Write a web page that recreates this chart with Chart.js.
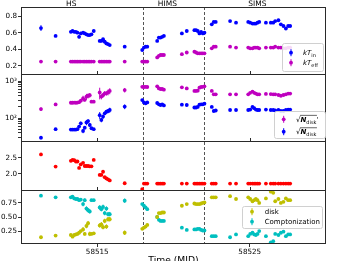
<!DOCTYPE html>
<html>
<head>
<meta charset="utf-8">
<script src="https://cdn.jsdelivr.net/npm/chart.js@4.4.1/dist/chart.umd.min.js"></script>
<style>
  html, body { margin: 0; padding: 0; background: #fff; overflow: hidden; }
  #wrap { width: 344px; height: 261px; overflow: hidden; }
</style>
</head>
<body>
<div id="wrap"><canvas id="chart" width="344" height="270"></canvas></div>
<script>
// observation times (MJD), HS / HIMS / SIMS
const mjd = [
  58511.31, 58512.27, 58513.27, 58513.38, 58513.49, 58513.60, 58513.70, 58513.81, 58513.92, 58514.07, 58514.18, 58514.29,
  58514.40, 58514.51, 58514.62, 58514.77, 58515.16, 58515.27, 58515.38, 58515.49, 58515.60, 58515.71, 58515.82, 58516.80,
  58517.95, 58518.06, 58518.17, 58518.28, 58518.93, 58519.04, 58519.15, 58519.26, 58519.37, 58520.55, 58520.87, 58521.37,
  58521.48, 58521.59, 58521.70, 58521.81, 58521.92, 58522.03,
  58522.51, 58522.64, 58522.77, 58523.71, 58524.10, 58524.90, 58525.03, 58525.18, 58525.29, 58525.40, 58525.51, 58525.62,
  58526.06, 58526.38, 58526.54, 58526.67, 58526.88, 58527.04, 58527.21, 58527.37, 58527.52, 58527.65
];

const kTin = [
  0.655, 0.56, 0.61, 0.62, 0.61, 0.61, 0.60, 0.55, 0.59, 0.60, 0.59, 0.58, 0.57, 0.57, 0.58, 0.62, 0.50, 0.50, 0.52, 0.49, 0.47, 0.46, 0.45, 0.43,
  0.39, 0.42, 0.43, 0.43, 0.50, 0.54, 0.54, 0.55, 0.56, 0.59, 0.62, 0.63, 0.63, 0.62, 0.59, 0.61, 0.59, 0.60,
  0.70, 0.73, 0.73, 0.74, 0.72, 0.73, 0.72, 0.71, 0.71, 0.71, 0.72, 0.73, 0.72, 0.72, 0.72, 0.74, 0.75, 0.70, 0.68, 0.65, 0.68, 0.68
];
const kTinErr = [
  0.035, 0.01, 0.01, 0.01, 0.01, 0.01, 0.01, 0.02, 0.01, 0.01, 0.01, 0.01, 0.01, 0.01, 0.01, 0.015, 0.01, 0.01, 0.01, 0.01, 0.01, 0.01, 0.01, 0.01,
  0.01, 0.01, 0.01, 0.01, 0.01, 0.01, 0.01, 0.01, 0.01, 0.01, 0.01, 0.01, 0.01, 0.01, 0.01, 0.01, 0.01, 0.01,
  0.01, 0.01, 0.01, 0.01, 0.01, 0.01, 0.01, 0.01, 0.01, 0.01, 0.01, 0.01, 0.01, 0.01, 0.01, 0.01, 0.01, 0.01, 0.01, 0.015, 0.01, 0.01
];
const kTeff = [
  0.25, 0.25, 0.25, 0.25, 0.25, 0.25, 0.25, 0.25, 0.25, 0.25, 0.25, 0.25, 0.25, 0.25, 0.25, 0.25, 0.25, 0.25, 0.25, 0.25, 0.25, 0.25, 0.25, 0.25,
  0.25, 0.25, 0.25, 0.25, 0.30, 0.32, 0.33, 0.33, 0.33, 0.34, 0.36, 0.37, 0.36, 0.35, 0.35, 0.35, 0.35, 0.35,
  0.41, 0.43, 0.43, 0.43, 0.42, 0.42, 0.41, 0.41, 0.42, 0.42, 0.42, 0.41, 0.42, 0.42, 0.42, 0.43, 0.42, 0.42, 0.41, 0.41, 0.42, 0.42
];

// sqrt(N_disk') (magenta) and sqrt(N_disk) (blue)
const nDiskP = [
  175, 234, 259, 259, 262, 259, 262, 268, 295, 340, 310, 380, 400, 415, 277, 277, 490, 380, 415, 465, 465, 500, 540, 570,
  700, 690, 700, 690, 720, 630, 610, 610, 585, 675, 630, 540, 540, 550, 660, 690, 700, 720,
  540, 437, 437, 437, 437, 437, 480, 520, 480, 460, 437, 437, 450, 445, 437, 437, 420, 400, 420, 437, 460, 460
];
const nDiskPErr = [
  20, 15, 12, 12, 12, 12, 12, 20, 30, 60, 30, 70, 60, 60, 15, 15, 170, 60, 60, 70, 60, 90, 100, 80,
  40, 40, 40, 40, 25, 25, 25, 25, 25, 20, 20, 20, 20, 20, 25, 25, 25, 30,
  20, 20, 20, 20, 20, 20, 20, 20, 20, 20, 20, 20, 20, 20, 20, 20, 20, 20, 20, 20, 20, 20
];
const nDisk = [
  29.5, 50, 49, 49, 49, 49, 50, 59, 72, 45, 55, 76, 83, 65, 53, 50, 120, 89, 110, 134, 148, 155, 165, 204,
  306, 265, 250, 265, 255, 235, 225, 235, 220, 230, 225, 193, 193, 200, 230, 235, 235, 245,
  200, 155, 160, 165, 165, 165, 170, 200, 185, 170, 165, 165, 170, 165, 165, 162, 165, 155, 155, 165, 170, 170
];
const nDiskErr = [
  3, 3, 2, 2, 2, 2, 2, 6, 8, 6, 6, 12, 10, 8, 4, 3, 25, 12, 15, 15, 15, 20, 25, 30,
  25, 15, 12, 12, 12, 10, 10, 10, 10, 10, 10, 8, 8, 8, 10, 10, 10, 12,
  8, 8, 8, 8, 8, 8, 8, 8, 8, 8, 8, 8, 8, 8, 8, 8, 8, 8, 8, 8, 8, 8
];

// photon index
const gammaIdx = [
  2.61, 2.23, 2.41, 2.44, 2.43, 2.39, 2.39, 2.19, 2.30, 2.35, 2.25, 2.25, 2.25, 2.24, 2.24, 2.44, 1.97, 1.97, 2.07, 1.90, 1.86, 1.83, 1.80, 1.71,
  1.53, 1.70, 1.70, 1.70, 1.70, 1.70, 1.70, 1.70, 1.70, 1.70, 1.70, 1.70, 1.70, 1.70, 1.70, 1.70, 1.70, 1.70,
  1.70, 1.70, 1.70, 1.70, 1.70, 1.70, 1.70, 1.70, 1.70, 1.70, 1.70, 1.70, 1.70, 1.70, 1.70, 1.70, 1.70, 1.70, 1.70, 1.70, 1.70, 1.70
];

// flux fractions
const diskFrac = [
  0.14, 0.17, 0.18, 0.15, 0.18, 0.19, 0.20, 0.22, 0.25, 0.28, 0.20, 0.34, 0.39, 0.20, 0.20, 0.21, 0.35, 0.37, 0.32, 0.43, 0.33, 0.46, 0.46, 0.22,
  0.29, 0.31, 0.33, 0.36, 0.50, 0.57, 0.57, 0.58, 0.58, 0.70, 0.73, 0.74, 0.73, 0.73, 0.73, 0.74, 0.75, 0.76,
  0.85, 0.85, 0.85, 0.87, 0.82, 0.85, 0.82, 0.78, 0.80, 0.82, 0.80, 0.75, 0.83, 0.95, 0.93, 0.78, 0.82, 0.75, 0.77, 0.83, 0.80, 0.80
];
const comptFrac = [
  0.88, 0.85, 0.85, 0.86, 0.83, 0.82, 0.82, 0.80, 0.81, 0.73, 0.80, 0.65, 0.62, 0.60, 0.80, 0.80, 0.67, 0.64, 0.68, 0.57, 0.65, 0.55, 0.55, 0.79,
  0.73, 0.70, 0.67, 0.64, 0.50, 0.45, 0.43, 0.43, 0.43, 0.31, 0.27, 0.28, 0.28, 0.29, 0.29, 0.27, 0.26, 0.26,
  0.16, 0.16, 0.16, 0.14, 0.19, 0.16, 0.20, 0.22, 0.19, 0.18, 0.20, 0.25, 0.16, 0.05, 0.07, 0.20, 0.18, 0.22, 0.24, 0.16, 0.19, 0.19
];
const fracErr = [
  0.02, 0.02, 0.02, 0.02, 0.02, 0.02, 0.02, 0.02, 0.02, 0.04, 0.03, 0.04, 0.04, 0.04, 0.02, 0.02, 0.04, 0.04, 0.04, 0.04, 0.04, 0.04, 0.04, 0.04,
  0.02, 0.02, 0.02, 0.02, 0.02, 0.02, 0.02, 0.02, 0.02, 0.01, 0.01, 0.01, 0.01, 0.01, 0.01, 0.01, 0.01, 0.01,
  0.01, 0.01, 0.01, 0.01, 0.01, 0.01, 0.01, 0.01, 0.01, 0.01, 0.01, 0.01, 0.01, 0.01, 0.01, 0.01, 0.01, 0.01, 0.01, 0.01, 0.01, 0.01
];

const xTicks = [58515, 58525];
const kTTicks = [0.2, 0.4, 0.6, 0.8];
const normTicks = [30, 40, 50, 60, 70, 80, 90, 100, 200, 300, 400, 500, 600, 700, 800, 900, 1000];
const gammaTicks = [2.0, 2.5];
const fracTicks = [0.25, 0.5, 0.75];
const stateNames = ['HS', 'HIMS', 'SIMS'];
const stateLabelAt = [58513.3, 58519.6, 58525.5];
const transitions = [58518, 58522];

const FONT = '"DejaVu Sans"';
Chart.defaults.font.family = FONT;
Chart.defaults.font.size = 7.2;
Chart.defaults.color = '#000';

const pts = ys => mjd.map((x, i) => ({ x: x, y: ys[i] }));

function series(label, ys, err, color, axis) {
  return {
    label: label, data: pts(ys), err: err, yAxisID: axis,
    backgroundColor: color, borderColor: color,
    pointRadius: 1.9, pointBorderWidth: 0, showLine: false
  };
}

function yAxis(weight, min, max, ticks, fmt, extra) {
  return Object.assign({
    axis: 'y', position: 'left', stack: 'panels', stackWeight: weight, min: min, max: max,
    afterBuildTicks: s => { s.ticks = ticks.map(v => ({ value: v })); },
    afterFit: s => { s.width = 21; },
    ticks: { callback: fmt, padding: 1, color: '#000', autoSkip: false },
    grid: { drawOnChartArea: false, tickLength: 3, tickColor: '#333' },
    border: { display: false }
  }, extra || {});
}

function richText(ctx, x, y, segs, size) {
  let cx = x, ovStart = null, ovEnd = null;
  segs.forEach(s => {
    const fs = s.sub ? size * 0.72 : size;
    ctx.font = (s.it ? 'italic ' : '') + (s.bold ? 'bold ' : '') + fs + 'px ' + FONT;
    ctx.fillText(s.t, cx, y + (s.sub ? size * 0.3 : 0));
    const w = ctx.measureText(s.t).width;
    if (s.over) { if (ovStart === null) ovStart = cx; ovEnd = cx + w; }
    cx += w;
  });
  if (ovStart !== null) {
    ctx.beginPath();
    ctx.moveTo(ovStart - 0.5, y - size * 0.92);
    ctx.lineTo(ovEnd + 0.5, y - size * 0.92);
    ctx.lineWidth = 0.6;
    ctx.strokeStyle = '#000';
    ctx.stroke();
  }
}

function drawLegend(ctx, bx, by, bw, bh, entries) {
  ctx.save();
  ctx.beginPath();
  ctx.roundRect(bx + 0.5, by + 0.5, bw, bh, 2);
  ctx.fillStyle = 'rgba(255,255,255,0.85)';
  ctx.fill();
  ctx.strokeStyle = '#d0d0d0';
  ctx.lineWidth = 1;
  ctx.stroke();
  entries.forEach(e => {
    const mx = bx + e.mx, my = by + e.dy;
    ctx.strokeStyle = e.color;
    ctx.lineWidth = 1;
    ctx.beginPath();
    ctx.moveTo(mx, my - 3.5);
    ctx.lineTo(mx, my + 3.5);
    ctx.stroke();
    ctx.fillStyle = e.color;
    ctx.beginPath();
    ctx.arc(mx, my, 1.9, 0, Math.PI * 2);
    ctx.fill();
    ctx.fillStyle = '#000';
    ctx.textAlign = 'left';
    ctx.textBaseline = 'alphabetic';
    richText(ctx, bx + e.tx, my + 2.5, e.segs, 7);
  });
  ctx.restore();
}

const decorations = {
  id: 'decorations',
  beforeDatasetsDraw(chart) {
    const ctx = chart.ctx, ca = chart.chartArea, xs = chart.scales.x;
    ctx.save();
    // state transitions
    ctx.strokeStyle = '#555';
    ctx.lineWidth = 1;
    ctx.setLineDash([3, 2]);
    transitions.forEach(t => {
      const px = Math.round(xs.getPixelForValue(t)) + 0.5;
      ctx.beginPath();
      ctx.moveTo(px, ca.top);
      ctx.lineTo(px, ca.bottom);
      ctx.stroke();
    });
    ctx.setLineDash([]);
    // error bars
    chart.data.datasets.forEach((ds, i) => {
      if (!ds.err) return;
      const meta = chart.getDatasetMeta(i), ys = chart.scales[ds.yAxisID];
      ctx.strokeStyle = ds.borderColor;
      ctx.lineWidth = 1;
      ds.data.forEach((p, j) => {
        const e = ds.err[j];
        const lo = Math.max(p.y - e, ys.min), hi = p.y + e;
        const px = meta.data[j].x;
        ctx.beginPath();
        ctx.moveTo(px, ys.getPixelForValue(lo));
        ctx.lineTo(px, ys.getPixelForValue(hi));
        ctx.stroke();
      });
    });
    ctx.restore();
  },
  afterDraw(chart) {
    const ctx = chart.ctx, ca = chart.chartArea, xs = chart.scales.x, sc = chart.scales;
    const panels = [sc.yT, sc.yN, sc.yG, sc.yF];
    ctx.save();
    // frames
    ctx.strokeStyle = '#2a2a2a';
    ctx.lineWidth = 1;
    const L = Math.round(ca.left) + 0.5, R = Math.round(ca.right) - 0.5;
    ctx.beginPath();
    ctx.moveTo(L, ca.top); ctx.lineTo(L, ca.bottom);
    ctx.moveTo(R, ca.top); ctx.lineTo(R, ca.bottom);
    panels.forEach(p => {
      const t = Math.round(p.top) + 0.5;
      ctx.moveTo(L, t); ctx.lineTo(R, t);
    });
    const b = Math.round(ca.bottom) - 0.5;
    ctx.moveTo(L, b); ctx.lineTo(R, b);
    ctx.stroke();
    // small x ticks along the inner panel edges
    ctx.beginPath();
    panels.slice(0, 3).forEach(p => {
      xTicks.forEach(v => {
        const px = Math.round(xs.getPixelForValue(v)) + 0.5;
        ctx.moveTo(px, p.bottom);
        ctx.lineTo(px, p.bottom - 3);
      });
    });
    ctx.stroke();
    // state names
    ctx.fillStyle = '#000';
    ctx.font = '7.5px ' + FONT;
    ctx.textAlign = 'center';
    ctx.textBaseline = 'alphabetic';
    stateNames.forEach((n, i) => ctx.fillText(n, xs.getPixelForValue(stateLabelAt[i]), 5.5));
    ctx.restore();

    drawLegend(ctx, ca.right - 44, sc.yT.bottom - 31, 41, 28, [
      { color: '#0000ff', mx: 9, tx: 21, dy: 9.7, segs: [{ t: 'kT', it: true }, { t: 'in', sub: true }] },
      { color: '#bf00bf', mx: 9, tx: 21, dy: 19.7, segs: [{ t: 'kT', it: true }, { t: 'eff', sub: true }] }
    ]);
    drawLegend(ctx, ca.right - 52, sc.yN.bottom - 30, 51, 27, [
      { color: '#bf00bf', mx: 9.7, tx: 22, dy: 8.3, segs: [{ t: '√' }, { t: 'N', it: true, bold: true, over: true }, { t: 'disk', sub: true, over: true }, { t: "'" }] },
      { color: '#0000ff', mx: 9.7, tx: 22, dy: 20.7, segs: [{ t: '√' }, { t: 'N', it: true, bold: true, over: true }, { t: 'disk', sub: true, over: true }] }
    ]);
    drawLegend(ctx, ca.right - 84, sc.yF.top + 16, 80, 22, [
      { color: '#bfbf00', mx: 10, tx: 22.7, dy: 5.7, segs: [{ t: 'disk' }] },
      { color: '#00bfbf', mx: 10, tx: 22.7, dy: 15.7, segs: [{ t: 'Comptonization' }] }
    ]);
  }
};

new Chart(document.getElementById('chart'), {
  type: 'scatter',
  data: {
    datasets: [
      series('kTin', kTin, kTinErr, '#0000ff', 'yT'),
      series('kTeff', kTeff, null, '#bf00bf', 'yT'),
      series('NdiskP', nDiskP, nDiskPErr, '#bf00bf', 'yN'),
      series('Ndisk', nDisk, nDiskErr, '#0000ff', 'yN'),
      series('gamma', gammaIdx, null, '#ff0000', 'yG'),
      series('disk', diskFrac, fracErr, '#bfbf00', 'yF'),
      series('compt', comptFrac, fracErr, '#00bfbf', 'yF')
    ]
  },
  plugins: [decorations],
  options: {
    responsive: false,
    animation: false,
    events: [],
    layout: { padding: { left: 0, right: 18, top: 7, bottom: 0 } },
    plugins: { legend: { display: false }, tooltip: { enabled: false } },
    scales: {
      x: {
        type: 'linear', position: 'bottom', min: 58510, max: 58530,
        afterBuildTicks: s => { s.ticks = xTicks.map(v => ({ value: v })); },
        afterFit: s => { s.height = 26; },
        ticks: { callback: v => String(v), maxRotation: 0, padding: 1, color: '#000' },
        grid: { drawOnChartArea: false, tickLength: 3, tickColor: '#333' },
        border: { display: false },
        title: { display: true, text: 'Time (MJD)', font: { size: 9.2 }, color: '#000', padding: { top: 2, bottom: 4 } }
      },
      yF: yAxis(54, 0.02, 0.98, fracTicks, v => v.toFixed(2)),
      yG: yAxis(49, 1.5, 3.03, gammaTicks, v => v.toFixed(1)),
      yN: yAxis(67, 24, 1550, normTicks, v => (v === 100 ? '10²' : v === 1000 ? '10³' : ''), { type: 'logarithmic' }),
      yT: yAxis(67, 0.1, 0.91, kTTicks, v => v.toFixed(1))
    }
  }
});
</script>
</body>
</html>
